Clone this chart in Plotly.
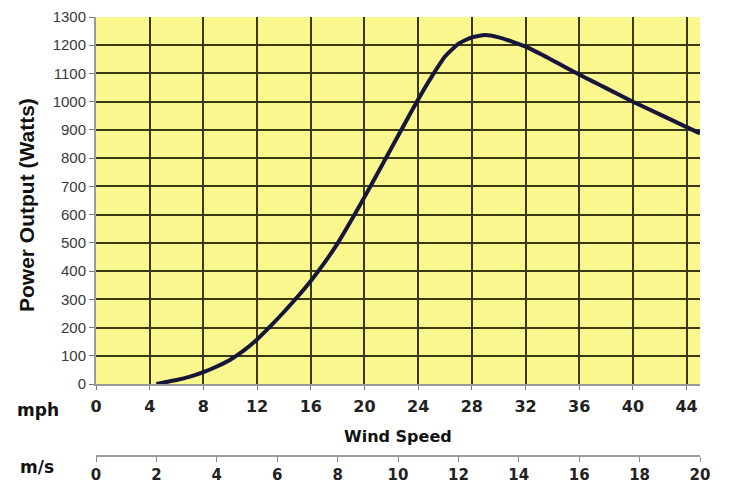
import plotly.graph_objects as go

# Data
wind_mph = [4.5, 5, 6, 7, 8, 9, 10, 11, 12, 13, 14, 15, 16, 17, 18, 19, 20, 21, 22, 23,
            24, 25, 26, 27, 28, 29, 30, 31, 32, 33, 34, 35, 36, 37, 38, 40, 42, 44, 45]
power_w = [0, 5, 14, 26, 42, 62, 86, 118, 158, 205, 255, 308, 365, 428, 498, 578, 662,
           748, 835, 922, 1008, 1088, 1160, 1205, 1228, 1236, 1228, 1213, 1195, 1172, 1147,
           1121, 1096, 1072, 1048, 1000, 955, 910, 888]
mph_ticks = [0, 4, 8, 12, 16, 20, 24, 28, 32, 36, 40, 44]
ms_ticks = [0, 2, 4, 6, 8, 10, 12, 14, 16, 18, 20]
watt_ticks = list(range(0, 1301, 100))

# page offset of the figure (browser body margin)
OFF = 8
W, H = 736 - OFF, 483 - OFF
# target page-pixel geometry
P_LEFT, P_RIGHT, P_TOP, P_BOTTOM, MS_AXIS = 96, 700, 17, 384, 455
ml = P_LEFT - OFF
mt = P_TOP - OFF
mr = W - (P_RIGHT - OFF)
mb = H - (MS_AXIS - OFF)
paper_h = H - mt - mb
paper_w = W - ml - mr
y_dom0 = (MS_AXIS - P_BOTTOM) / paper_h


def px_x(px):
    return (px - P_LEFT) / paper_w


def px_y(py):
    return (MS_AXIS - py) / paper_h


fig = go.Figure()
fig.add_trace(go.Scatter(
    x=wind_mph, y=power_w, mode="lines",
    line=dict(color="#16163a", width=4, shape="spline", smoothing=0.5),
    hoverinfo="skip", showlegend=False,
))
fig.add_trace(go.Scatter(x=[ms_ticks[0], ms_ticks[-1]], y=[None, None], xaxis="x2", yaxis="y2",
                         mode="lines", showlegend=False, hoverinfo="skip"))

grid_col = "#3a3810"
ann_common = dict(xref="paper", yref="paper", showarrow=False,
                  xanchor="center", yanchor="middle")
fig.update_layout(
    width=W, height=H,
    margin=dict(l=ml, r=mr, t=mt, b=mb, autoexpand=False),
    paper_bgcolor="white",
    plot_bgcolor="rgba(0,0,0,0)",
    shapes=[dict(type="rect", xref="x domain", yref="y domain", x0=0, x1=1, y0=0, y1=1,
                 fillcolor="#faf78e", line=dict(width=0), layer="below")],
    xaxis=dict(
        range=[0, 45], tickvals=mph_ticks, ticktext=[str(v) for v in mph_ticks],
        showgrid=True, gridcolor=grid_col, gridwidth=1.6,
        showline=True, linecolor="#9a9a9a", linewidth=2,
        ticks="outside", ticklen=4, tickcolor="#777", ticklabelstandoff=3,
        tickfont=dict(family="DejaVu Sans", size=16, color="#222", weight="bold"),
        zeroline=False, fixedrange=True, automargin=False,
    ),
    xaxis2=dict(
        range=[0, 20], tickvals=ms_ticks, ticktext=[str(v) for v in ms_ticks],
        anchor="y2", domain=[0, 1], side="bottom",
        showgrid=False, zeroline=False,
        showline=True, linecolor="#9a9a9a", linewidth=2,
        ticks="outside", ticklen=5, tickcolor="#8a8a8a",
        tickfont=dict(family="DejaVu Sans", size=15, color="#222", weight="bold"),
        fixedrange=True, automargin=False,
    ),
    yaxis=dict(
        domain=[y_dom0, 1], range=[0, 1300], tickvals=watt_ticks,
        showgrid=True, gridcolor=grid_col, gridwidth=2,
        showline=True, linecolor="#9a9a9a", linewidth=2,
        ticks="outside", ticklen=5, tickcolor="#777",
        tickfont=dict(family="Liberation Sans", size=15, color="#3a3a3a"),
        zeroline=False, fixedrange=True, automargin=False,
    ),
    yaxis2=dict(domain=[0, 0.001], visible=False, range=[0, 1], fixedrange=True),
    annotations=[
        dict(text="<b>Wind Speed</b>", x=px_x(398), y=px_y(436),
             font=dict(family="DejaVu Sans", size=16, color="#111"), **ann_common),
        dict(text="<b>mph</b>", x=px_x(38), y=px_y(410),
             font=dict(family="DejaVu Sans", size=17, color="#111"), **ann_common),
        dict(text="<b>m/s</b>", x=px_x(37), y=px_y(467),
             font=dict(family="DejaVu Sans", size=17, color="#111"), **ann_common),
        dict(text="<b>Power Output (Watts)</b>", x=px_x(26), y=px_y(205), textangle=-90,
             font=dict(family="Liberation Sans", size=21, color="#111"), **ann_common),
    ],
)

fig.write_html("out.html")
